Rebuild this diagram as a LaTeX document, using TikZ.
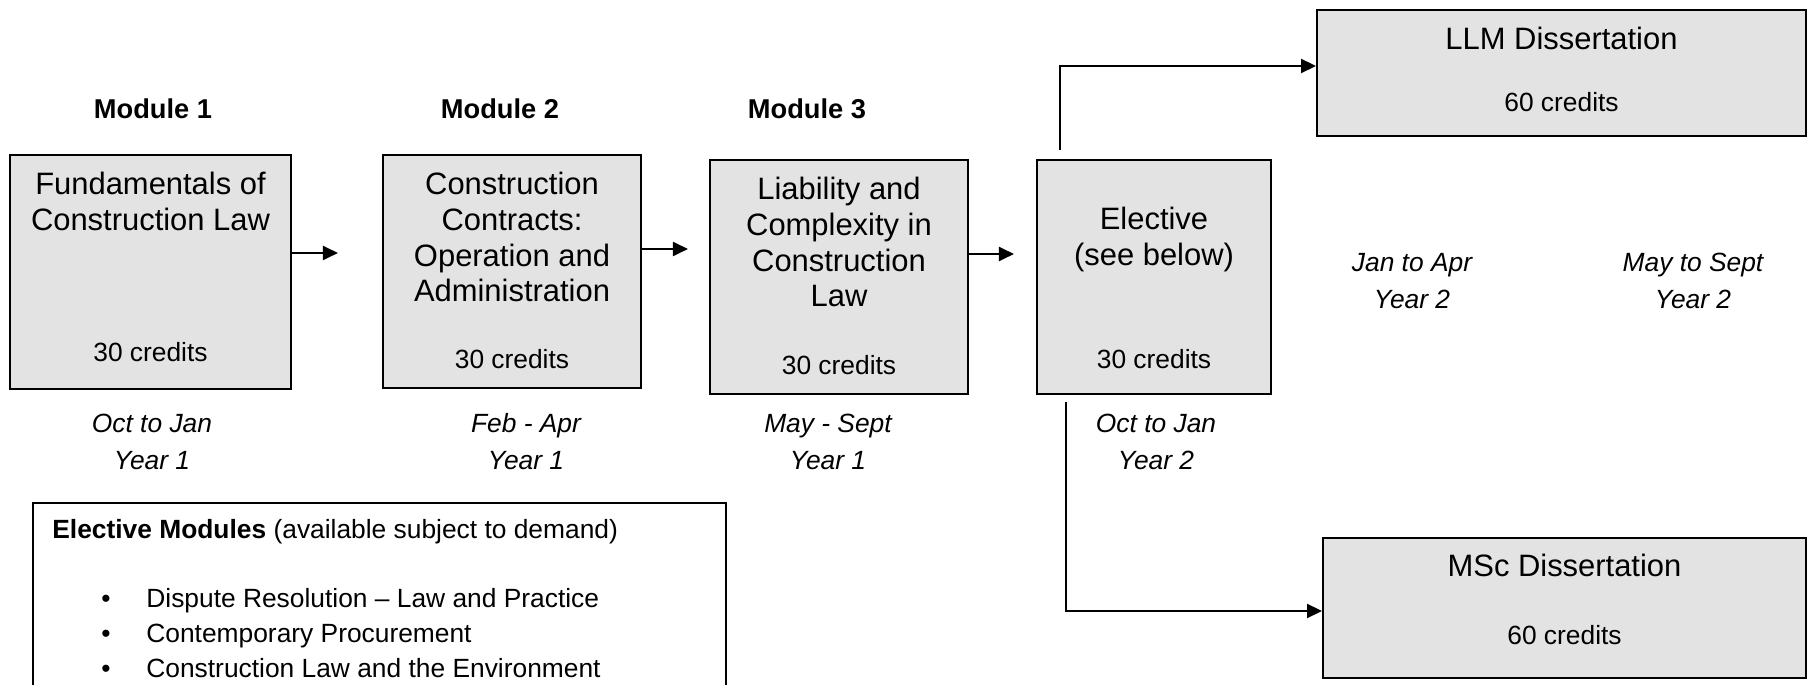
\documentclass[tikz,border=0pt]{standalone}
\usepackage{fontspec}
\setmainfont{Liberation Sans}
\usetikzlibrary{positioning,arrows.meta}
\definecolor{boxgray}{gray}{0.89}
\tikzset{>={Triangle[length=0.3cm,width=0.28cm]}}
\tikzset{
  modbox/.style={draw,line width=1.1pt,fill=boxgray,inner sep=0pt},
  modtitle/.style={inner sep=0pt,align=center,font=\fontsize{17.6}{20.3}\selectfont},
  modcredits/.style={inner sep=0pt,font=\fontsize{15}{18}\selectfont},
  modlabel/.style={font=\fontsize{15.5}{18}\selectfont\bfseries},
  period/.style={align=center,font=\fontsize{15}{21}\selectfont\itshape},
  optlist/.style={inner sep=0pt,align=left,font=\fontsize{15}{19.9}\selectfont},
  link/.style={->,line width=1.1pt}
}

\begin{document}
\begin{tikzpicture}
  \useasboundingbox (0,0) rectangle (36.14,13.68);

  % modules
  \node[modbox,minimum width=5.62cm,minimum height=4.68cm] (m1) at (3.01,8.24) {};
  \node[modbox,minimum width=5.16cm,minimum height=4.66cm] (m2) at (10.24,8.25) {};
  \node[modbox,minimum width=5.16cm,minimum height=4.68cm] (m3) at (16.78,8.14) {};
  \node[modbox,minimum width=4.68cm,minimum height=4.68cm] (elec) at (23.08,8.14) {};
  \node[modbox,minimum width=9.78cm,minimum height=2.52cm] (llm) at (31.23,12.22) {};
  \node[modbox,minimum width=9.66cm,minimum height=2.80cm] (msc) at (31.29,1.52) {};

  \node[modtitle,below=0.36cm of m1.north] (m1t) {Fundamentals of\\Construction Law};
  \node[modtitle,below=0.36cm of m2.north] (m2t) {Construction\\Contracts:\\Operation and\\Administration};
  \node[modtitle,below=0.36cm of m3.north] (m3t) {Liability and\\Complexity in\\Construction\\Law};
  \node[modtitle,below=0.96cm of elec.north] (elect) {Elective\\(see below)};
  \node[modtitle,below=0.36cm of llm.north] (llmt) {LLM Dissertation};
  \node[modtitle,below=0.34cm of msc.north] (msct) {MSc Dissertation};

  \node[modcredits,above=0.55cm of m1.south] (m1c) {30 credits};
  \node[modcredits,above=0.39cm of m2.south] (m2c) {30 credits};
  \node[modcredits,above=0.39cm of m3.south] (m3c) {30 credits};
  \node[modcredits,above=0.51cm of elec.south] (elecc) {30 credits};
  \node[modcredits,above=0.49cm of llm.south] (llmc) {60 credits};
  \node[modcredits,above=0.67cm of msc.south] (mscc) {60 credits};

  \node[modlabel] (h1) at (3.06,11.5) {Module 1};
  \node[modlabel] (h2) at (10.0,11.5) {Module 2};
  \node[modlabel] (h3) at (16.14,11.5) {Module 3};

  % when each one runs
  \node[period] (d1) at (3.04,4.85) {Oct to Jan\\Year 1};
  \node[period] (d2) at (10.52,4.85) {Feb - Apr\\Year 1};
  \node[period] (d3) at (16.56,4.85) {May - Sept\\Year 1};
  \node[period] (d4) at (23.12,4.85) {Oct to Jan\\Year 2};
  \node[period] (d5) at (28.24,8.06) {Jan to Apr\\Year 2};
  \node[period] (d6) at (33.86,8.06) {May to Sept\\Year 2};

  \draw[link] ([yshift=0.38cm]m1.east) -- ++(0.92,0);
  \draw[link] ([yshift=0.45cm]m2.east) -- ++(0.92,0);
  \draw[link] ([yshift=0.46cm]m3.east) -- ++(0.9,0);
  \draw[link] ([xshift=0.48cm,yshift=0.18cm]elec.north west) |- ([yshift=0.14cm]llm.west);
  \draw[link] ([xshift=0.6cm,yshift=-0.14cm]elec.south west) |- ([yshift=-0.06cm]msc.west);

  % electives
  \node[draw,line width=1.1pt,minimum width=13.86cm,minimum height=4.2cm,inner sep=0pt] (opts) at (7.59,1.52) {};
  \node[optlist,below right=0.34cm and 0.4cm of opts.north west] (optst)
    {\textbf{Elective Modules} (available subject to demand)\\[0.68cm]
     \hspace*{0.98cm}\makebox[0.9cm][l]{\textbullet}Dispute Resolution – Law and Practice\\
     \hspace*{0.98cm}\makebox[0.9cm][l]{\textbullet}Contemporary Procurement\\
     \hspace*{0.98cm}\makebox[0.9cm][l]{\textbullet}Construction Law and the Environment};
\end{tikzpicture}
\end{document}
